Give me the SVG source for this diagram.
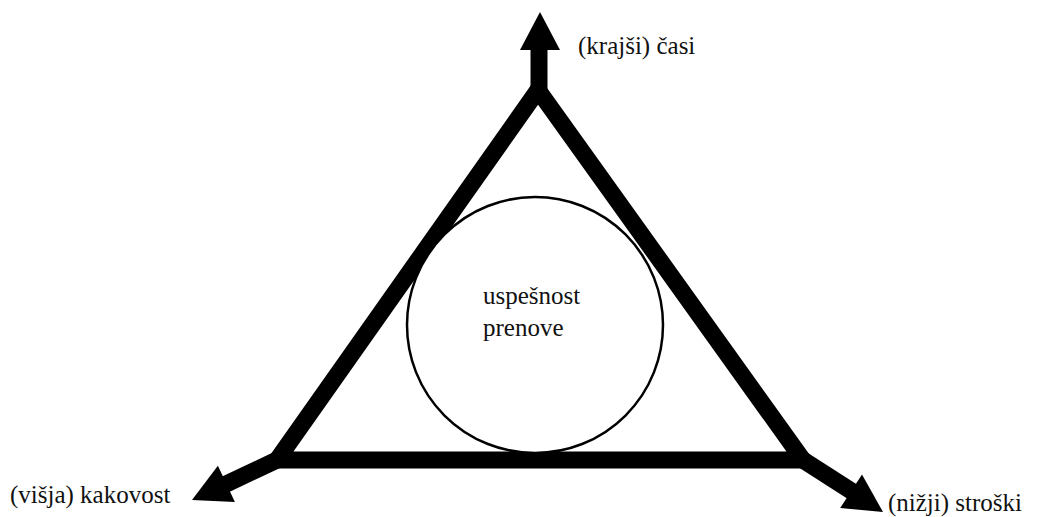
<svg xmlns="http://www.w3.org/2000/svg" width="1049" height="517" viewBox="0 0 1049 517">
<style>
.edge{fill:none;stroke:#000;stroke-width:17;stroke-linejoin:miter}
.head{fill:#000;stroke:none}
.circ{fill:#fff;stroke:#000;stroke-width:2.5}
</style>
<rect width="1049" height="517" fill="#fff"/>
<g id="connectors">
<polygon class="edge" points="538,90 277,460 803,460"/>
<line class="edge" x1="539" y1="92" x2="539" y2="45"/>
<polygon class="head" points="540,12 560,50 520,50"/>
<line class="edge" x1="277" y1="460" x2="222" y2="486"/>
<polygon class="head" points="192,500 234.9,501.9 217.9,465.7"/>
<line class="edge" x1="803" y1="460" x2="856" y2="494"/>
<polygon class="head" points="883,512 840.2,508.1 862,474.5"/>
</g>
<g id="node-success">
<circle class="circ" cx="535" cy="325" r="128"/>
<text x="483" y="304" font-family="Liberation Serif" font-size="25" fill="#111">uspešnost</text>
<text x="483" y="336" font-family="Liberation Serif" font-size="25" fill="#111">prenove</text>
</g>
<g id="node-time"><text x="578" y="54" font-family="Liberation Serif" font-size="25" fill="#111">(krajši) časi</text></g>
<g id="node-quality"><text x="10" y="503" font-family="Liberation Serif" font-size="25" fill="#111">(višja) kakovost</text></g>
<g id="node-cost"><text x="888" y="511" font-family="Liberation Serif" font-size="25" fill="#111">(nižji) stroški</text></g>
</svg>
